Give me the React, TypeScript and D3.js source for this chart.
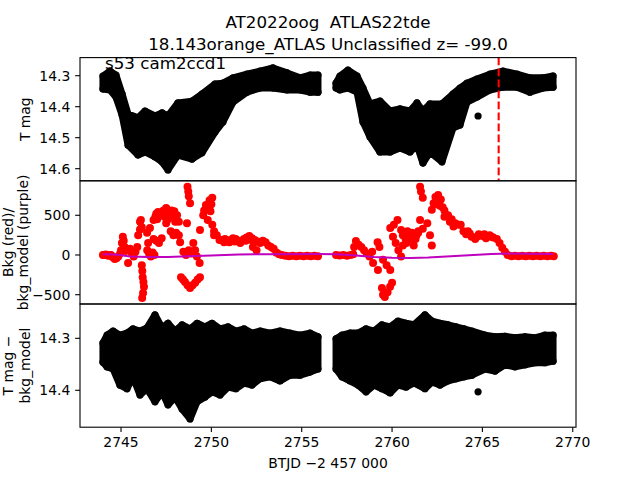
import React from 'react';
import * as d3 from 'd3';

// ---------- data ----------
const titleLines = ['AT2022oog  ATLAS22tde', '18.143orange_ATLAS Unclassified z= -99.0'];
const sectorLabel = 's53 cam2ccd1';

const xTicks = [2745, 2750, 2755, 2760, 2765, 2770];
const magTicks1 = [14.3, 14.4, 14.5, 14.6];
const bkgTicks = [500, 0, -500];
const magTicks3 = [14.3, 14.4];

// panel 1: T mag envelope of the dense light curve
const magTime = [2744.00, 2744.39, 2744.72, 2745.06, 2745.39, 2745.94, 2746.33, 2746.88, 2747.27, 2747.60, 2748.15, 2748.93, 2749.48, 2750.20, 2750.64, 2751.20, 2751.97, 2752.69, 2753.41, 2754.19, 2754.91, 2755.46, 2755.90,
  2756.90, 2757.12, 2757.56, 2758.06, 2758.39, 2758.78, 2759.33, 2759.89, 2760.44, 2760.99, 2761.38, 2761.71, 2762.10, 2762.76, 2763.37, 2763.76, 2764.15, 2764.70, 2765.42, 2766.14, 2766.91, 2767.63, 2768.35, 2768.91];
const magUpper = [14.301, 14.285, 14.298, 14.359, 14.424, 14.436, 14.414, 14.430, 14.420, 14.430, 14.388, 14.382, 14.359, 14.327, 14.324, 14.307, 14.295, 14.285, 14.275, 14.291, 14.307, 14.298, 14.298,
  14.324, 14.301, 14.282, 14.301, 14.340, 14.391, 14.382, 14.414, 14.407, 14.414, 14.388, 14.414, 14.391, 14.391, 14.359, 14.340, 14.324, 14.311, 14.295, 14.285, 14.295, 14.307, 14.307, 14.301];
const magLower = [14.343, 14.346, 14.369, 14.427, 14.524, 14.556, 14.546, 14.562, 14.578, 14.604, 14.556, 14.569, 14.549, 14.482, 14.449, 14.385, 14.353, 14.340, 14.340, 14.346, 14.346, 14.353, 14.353,
  14.340, 14.346, 14.340, 14.353, 14.449, 14.498, 14.546, 14.546, 14.533, 14.546, 14.524, 14.582, 14.546, 14.578, 14.469, 14.459, 14.385, 14.369, 14.346, 14.337, 14.337, 14.353, 14.340, 14.337];
const magOutlierTime = [2764.76];
const magOutlierValue = [14.430];
const markerTime = 2765.9;

// panel 2: background (red points) and background model (purple line)
const bkgTime = [2744.00, 2744.15, 2744.30, 2744.45, 2744.55, 2744.65, 2744.75, 2744.85, 2744.95,
  2745.00, 2745.05, 2745.10, 2745.15, 2745.20, 2745.25, 2745.39,
  2745.50, 2745.60, 2745.70, 2745.80, 2745.90, 2745.95, 2746.05, 2746.15, 2746.05, 2746.10,
  2746.15, 2746.18, 2746.20, 2746.24, 2746.27, 2746.22, 2746.17,
  2746.45, 2746.55, 2746.65, 2746.75, 2746.85, 2746.44, 2746.50, 2746.60,
  2746.80, 2746.95, 2747.10, 2747.25, 2746.80, 2746.90, 2747.05, 2747.15,
  2747.35, 2747.50, 2747.65, 2747.80, 2747.95, 2748.10, 2748.20, 2747.75, 2747.90, 2748.05, 2748.20, 2748.27,
  2748.32, 2748.43, 2748.54, 2748.68, 2748.82, 2748.96, 2749.10, 2749.24, 2749.37,
  2748.45, 2748.60, 2748.75, 2748.90, 2748.65, 2748.68, 2748.72, 2748.75, 2748.82,
  2749.00, 2749.10, 2749.20, 2749.35, 2749.37, 2749.55, 2749.70, 2749.90, 2750.05, 2749.80, 2750.05, 2750.15,
  2750.15, 2750.30, 2750.45, 2750.60, 2750.75, 2750.90, 2751.05, 2751.20, 2751.35, 2751.50, 2751.65, 2751.80, 2751.95, 2752.10, 2752.25, 2752.40, 2752.55, 2752.70,
  2752.30, 2752.50, 2752.85, 2753.00, 2753.15, 2753.30, 2753.45, 2753.60, 2753.75,
  2753.90, 2754.10, 2754.30, 2754.50, 2754.70, 2754.90, 2755.10, 2755.30, 2755.50, 2755.70, 2755.90,
  2756.90, 2757.10, 2757.30, 2757.50, 2757.70, 2757.85, 2757.90, 2758.00, 2758.15, 2758.30,
  2758.45, 2758.60, 2758.75, 2758.90, 2758.95, 2759.22, 2759.20, 2759.30,
  2759.44, 2759.50, 2759.60, 2759.75, 2759.89, 2760.00, 2759.50, 2759.70, 2759.90,
  2759.90, 2760.10, 2760.30, 2760.05, 2760.20, 2760.35, 2760.50, 2760.60, 2760.75,
  2760.50, 2760.70, 2760.90, 2761.10, 2761.30, 2761.45, 2760.80, 2761.20,
  2761.55, 2761.70, 2761.45, 2761.55, 2761.60, 2761.70, 2761.95, 2762.10, 2762.20,
  2762.20, 2762.40, 2762.55, 2762.70, 2762.80, 2762.90, 2763.10, 2763.30, 2763.50, 2763.70,
  2763.80, 2763.95, 2764.10, 2764.20, 2764.40, 2764.60, 2764.80, 2765.00, 2765.20, 2765.40, 2765.60, 2765.80,
  2765.95, 2766.10, 2766.25, 2766.40, 2766.60, 2766.80, 2767.00, 2767.20, 2767.40, 2767.60, 2767.80, 2768.00, 2768.20, 2768.40, 2768.60, 2768.80, 2768.95];
const bkgValue = [0, 5, -10, 0, -30, -50, -40, -20, 20,
  60, 150, 230, 180, 100, 50, -100,
  80, 20, -20, 40, 100, 250, 320, 350, 420, 440,
  -130, -200, -280, -340, -400, -480, -540,
  60, 20, -20, 30, 0, 280, 150, 340,
  200, 180, 150, 210, 440, 480, 540, 500,
  560, 590, 520, 480, 550, 500, 420, 300, 250, 280, 250, 160,
  -280, -310, -340, -380, -415, -380, -350, -310, -280,
  40, 0, 60, 20, 400, 860, 800, 740, 650,
  150, 60, -20, -100, 315, 500, 630, 690, 720, 440, 380, 250,
  300, 250, 190, 190, 200, 170, 190, 210, 200, 180, 175, 200, 220, 240, 210, 190, 170, 150,
  100, 60, 180, 160, 120, 100, 80, 30, 10,
  0, -10, -15, -10, -15, -10, -15, -10, -15, -10, -15,
  0, -5, 0, -10, 0, 10, 100, 175, 130, 100,
  60, 20, -20, 40, -100, -190, 160, 100,
  -415, -500, -530, -470, -400, -350, -60, -130, -190,
  340, 380, 440, 230, 150, 60, -20, 120, 200,
  315, 260, 230, 280, 200, 300, 150, 120,
  440, 330, 280, 860, 800, 720, 400, 250, 120,
  570, 730, 755, 700, 600, 560, 500, 450, 400, 380,
  380, 300, 260, 300, 230, 200, 260, 240, 210, 250, 220, 200,
  150, 90, 40, 0, -15, -10, -15, -10, -15, -10, -15, -10, -15, -10, -15, -10, -15];
// additional background points inside the dense clusters
const bkgTimeExtra = [2744.05, 2744.25, 2744.40, 2746.95, 2747.00, 2747.40, 2747.50, 2747.60, 2747.80, 2748.00, 2749.60, 2749.80, 2749.95, 2750.00, 2750.70, 2751.00, 2751.30, 2751.60, 2751.90, 2752.20, 2760.60, 2760.85, 2761.05, 2761.35, 2762.30, 2762.50, 2762.65, 2762.90, 2763.20, 2763.40, 2764.30, 2764.70, 2765.10, 2765.50];
const bkgValueExtra = [0, 0, -5, 520, 450, 480, 400, 450, 560, 420, 560, 600, 550, 640, 160, 160, 170, 150, 180, 190, 250, 300, 200, 250, 650, 640, 620, 480, 420, 360, 270, 230, 260, 230];
const modelTime = [2744.0, 2744.7, 2745.5, 2746.5, 2747.6, 2748.7, 2750.0, 2751.5, 2753.0, 2755.9, 2756.9, 2758.0, 2759.0, 2760.0, 2761.0, 2762.0, 2763.0, 2764.0, 2765.5, 2766.5, 2768.9];
const modelValue = [10, 5, -20, -25, -25, -15, -5, 5, 10, 12, 10, -5, -25, -35, -38, -32, -20, -5, 12, 20, 12];

// panel 3: T mag - bkg_model envelope
const corrTime = [2744.00, 2744.23, 2744.56, 2744.94, 2745.33, 2745.66, 2746.05, 2746.44, 2746.88, 2747.27, 2747.60, 2747.99, 2748.38, 2748.82, 2749.21, 2749.65, 2750.04, 2750.48, 2750.92, 2751.36, 2751.81, 2752.25, 2752.69, 2753.25, 2753.80, 2754.35, 2754.91, 2755.46, 2755.90,
  2756.90, 2757.23, 2757.67, 2758.12, 2758.56, 2759.00, 2759.44, 2759.89, 2760.33, 2760.77, 2761.21, 2761.82, 2762.21, 2762.65, 2763.10, 2763.54, 2763.98, 2764.42, 2765.14, 2765.70, 2766.25, 2766.80, 2767.36, 2767.91, 2768.46, 2768.91];
const corrUpper = [14.309, 14.294, 14.286, 14.294, 14.290, 14.282, 14.286, 14.280, 14.255, 14.280, 14.271, 14.286, 14.274, 14.282, 14.271, 14.278, 14.271, 14.282, 14.278, 14.286, 14.282, 14.290, 14.286, 14.290, 14.286, 14.290, 14.294, 14.290, 14.297,
  14.301, 14.294, 14.290, 14.290, 14.282, 14.286, 14.274, 14.278, 14.267, 14.271, 14.274, 14.255, 14.267, 14.271, 14.274, 14.278, 14.282, 14.286, 14.294, 14.297, 14.296, 14.299, 14.297, 14.299, 14.294, 14.294];
const corrLower = [14.346, 14.355, 14.359, 14.390, 14.397, 14.374, 14.409, 14.397, 14.422, 14.403, 14.428, 14.413, 14.436, 14.455, 14.422, 14.413, 14.403, 14.409, 14.394, 14.397, 14.386, 14.390, 14.378, 14.374, 14.382, 14.371, 14.371, 14.365, 14.359,
  14.359, 14.374, 14.382, 14.390, 14.403, 14.390, 14.397, 14.405, 14.390, 14.394, 14.386, 14.397, 14.384, 14.390, 14.382, 14.378, 14.374, 14.371, 14.359, 14.363, 14.351, 14.355, 14.351, 14.347, 14.347, 14.344];
const corrOutlierTime = [2764.76];
const corrOutlierValue = [14.403];

// ---------- layout ----------
const FONT = 'DejaVu Sans, sans-serif';
const LEFT = 80, RIGHT = 576;
const P = [
  { top: 57.6, bottom: 180.8 },
  { top: 180.8, bottom: 304 },
  { top: 304, bottom: 427.2 },
];

function segments(times: number[]): number[][] {
  const segs: number[][] = [];
  let cur: number[] = [];
  times.forEach((t, i) => {
    if (i > 0 && t - times[i - 1] > 0.9) { segs.push(cur); cur = []; }
    cur.push(i);
  });
  if (cur.length) segs.push(cur);
  return segs;
}

const fmtMinus = (v: number) => (v < 0 ? '\u2212' + Math.abs(v) : String(v));

export default function App() {
  const x = d3.scaleLinear().domain([2742.73, 2770.18]).range([LEFT, RIGHT]);
  const y1 = d3.scaleLinear().domain([14.6391, 14.2416]).range([P[0].bottom, P[0].top]);
  const y2 = d3.scaleLinear().domain([-617, 934]).range([P[1].bottom, P[1].top]);
  const y3 = d3.scaleLinear().domain([14.471, 14.234]).range([P[2].bottom, P[2].top]);

  const allBkgTime = bkgTime.concat(bkgTimeExtra);
  const allBkgValue = bkgValue.concat(bkgValueExtra);

  const band = (times: number[], up: number[], lo: number[], y: d3.ScaleLinear<number, number>) =>
    segments(times).map((idx, k) => {
      const a = d3.area<number>()
        .x((d) => x(times[d]))
        .y0((d) => y(lo[d]))
        .y1((d) => y(up[d]));
      return (
        <g key={k}>
          <path d={a(idx) || ''} fill="#000" stroke="#000" strokeWidth={7} strokeLinejoin="round" />
          {idx.map((i) => (
            <g key={i}>
              <circle cx={x(times[i])} cy={y(up[i])} r={3.6} fill="#000" />
              <circle cx={x(times[i])} cy={y(lo[i])} r={3.6} fill="#000" />
            </g>
          ))}
        </g>
      );
    });

  const modelLine = d3.line<number>().x((_, i) => x(modelTime[i])).y((v) => y2(v))(modelValue) || '';

  const yTicks = (ticks: number[], y: d3.ScaleLinear<number, number>, fmt: (v: number) => string) =>
    ticks.map((t) => (
      <g key={t}>
        <line x1={LEFT - 4.86} x2={LEFT} y1={y(t)} y2={y(t)} stroke="#000" strokeWidth={1.1} />
        <text x={LEFT - 9.7} y={y(t)} dy="0.35em" textAnchor="end" fontSize={13.9} fontFamily={FONT}>{fmt(t)}</text>
      </g>
    ));

  return (
    <svg width={640} height={480} style={{ position: 'absolute', left: 0, top: 0, background: '#fff' }}>
      <rect x={0} y={0} width={640} height={480} fill="#fff" />
      <defs>
        {P.map((p, i) => (
          <clipPath id={`clip${i}`} key={i}>
            <rect x={LEFT} y={p.top} width={RIGHT - LEFT} height={p.bottom - p.top} />
          </clipPath>
        ))}
      </defs>

      {/* title */}
      {titleLines.map((s, i) => (
        <text key={i} x={328} y={28 + i * 21.5} textAnchor="middle" fontSize={16.7} fontFamily={FONT} style={{ whiteSpace: 'pre' }}>{s}</text>
      ))}

      {/* panel 1 */}
      <g clipPath="url(#clip0)">
        {band(magTime, magUpper, magLower, y1)}
        {magOutlierTime.map((t, i) => <circle key={i} cx={x(t)} cy={y1(magOutlierValue[i])} r={3.6} fill="#000" />)}
      </g>
      <line x1={x(markerTime)} x2={x(markerTime)} y1={P[0].top} y2={P[0].bottom} stroke="#ff0000" strokeWidth={2.1} strokeDasharray="7.7 3.3" />
      <rect x={LEFT} y={P[0].top} width={RIGHT - LEFT} height={P[0].bottom - P[0].top} fill="none" stroke="#000" strokeWidth={1.1} />
      <text x={105} y={69} fontSize={16.7} fontFamily={FONT}>{sectorLabel}</text>
      {yTicks(magTicks1, y1, (v) => v.toFixed(1))}
      <text transform={`translate(30,${(P[0].top + P[0].bottom) / 2}) rotate(-90)`} textAnchor="middle" fontSize={13.9} fontFamily={FONT}>T mag</text>

      {/* panel 2 */}
      <g clipPath="url(#clip1)">
        {allBkgTime.map((t, i) => <circle key={i} cx={x(t)} cy={y2(allBkgValue[i])} r={4} fill="#ff0000" />)}
        <path d={modelLine} fill="none" stroke="#bf00bf" strokeWidth={2} />
      </g>
      <rect x={LEFT} y={P[1].top} width={RIGHT - LEFT} height={P[1].bottom - P[1].top} fill="none" stroke="#000" strokeWidth={1.1} />
      {yTicks(bkgTicks, y2, fmtMinus)}
      <text transform={`translate(12.5,${(P[1].top + P[1].bottom) / 2}) rotate(-90)`} textAnchor="middle" fontSize={13.9} fontFamily={FONT}>Bkg (red)/</text>
      <text transform={`translate(28,${(P[1].top + P[1].bottom) / 2}) rotate(-90)`} textAnchor="middle" fontSize={13.9} fontFamily={FONT}>bkg_model (purple)</text>

      {/* panel 3 */}
      <g clipPath="url(#clip2)">
        {band(corrTime, corrUpper, corrLower, y3)}
        {corrOutlierTime.map((t, i) => <circle key={i} cx={x(t)} cy={y3(corrOutlierValue[i])} r={3.6} fill="#000" />)}
      </g>
      <rect x={LEFT} y={P[2].top} width={RIGHT - LEFT} height={P[2].bottom - P[2].top} fill="none" stroke="#000" strokeWidth={1.1} />
      {yTicks(magTicks3, y3, (v) => v.toFixed(1))}
      <text transform={`translate(13,${(P[2].top + P[2].bottom) / 2}) rotate(-90)`} textAnchor="middle" fontSize={13.9} fontFamily={FONT}>T mag −</text>
      <text transform={`translate(29.5,${(P[2].top + P[2].bottom) / 2}) rotate(-90)`} textAnchor="middle" fontSize={13.9} fontFamily={FONT}>bkg_model</text>

      {/* x axis */}
      {xTicks.map((t) => (
        <g key={t}>
          <line x1={x(t)} x2={x(t)} y1={P[2].bottom} y2={P[2].bottom + 4.86} stroke="#000" strokeWidth={1.1} />
          <text x={x(t)} y={447} textAnchor="middle" fontSize={13.9} fontFamily={FONT}>{t}</text>
        </g>
      ))}
      <text x={328} y={468} textAnchor="middle" fontSize={13.9} fontFamily={FONT}>BTJD −2 457 000</text>
    </svg>
  );
}
